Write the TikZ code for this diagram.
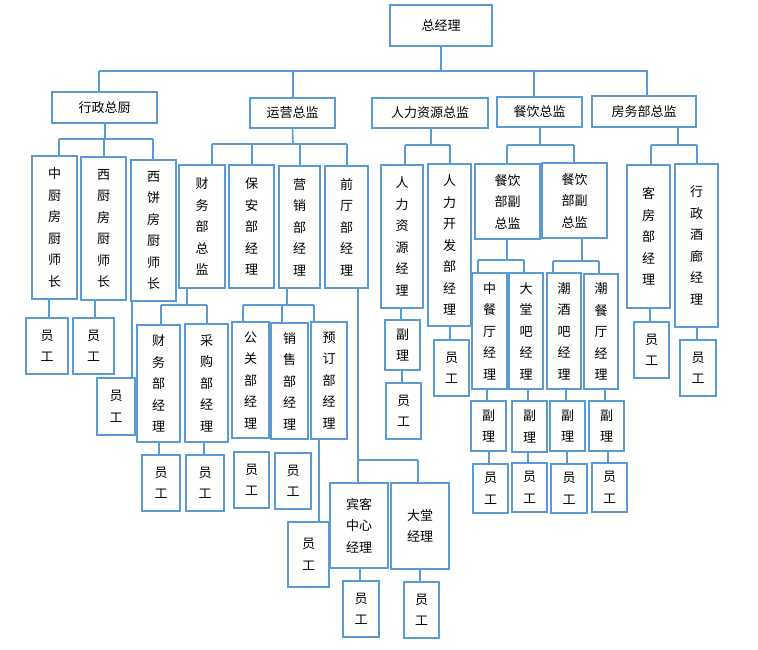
\documentclass[tikz,border=0pt]{standalone}
\usepackage{fontspec}
\setmainfont{Noto Sans CJK SC}
\definecolor{lineblue}{HTML}{5B9BD5}
\tikzset{box/.style={draw=lineblue, line width=1.6pt, inner sep=0pt,
                     align=center, font=\fontsize{13}{21.5}\selectfont}}
% box from its corners: name, x1, y1, x2, y2, text
\newcommand\bx[6]{\node[box, minimum width={(#4-#2)*1pt},
   minimum height={(#5-#3)*1pt}] (#1) at ({(#2+#4)/2},{(#3+#5)/2}) {#6};}
% drop from a branch line at height #2 down to node #3, along x = #1
\newcommand\drop[3]{\draw (#1,#2) -- (#3.north -| #1,0);}
\begin{document}
\begin{tikzpicture}[x=1pt,y=-1pt,line width=1.6pt,draw=lineblue]
\useasboundingbox (0,0) rectangle (758,649);
\tikzset{every path/.style={draw=lineblue}}

\bx{gm}{390}{5}{492}{46}{总经理}
\bx{xz}{52}{92}{157}{123}{行政总厨}
\bx{yy}{250}{98}{335}{128}{运营总监}
\bx{rl}{372}{98}{488}{128}{人力资源总监}
\bx{cy}{497}{97}{582}{127}{餐饮总监}
\bx{fw}{592}{96}{696}{127}{房务部总监}

\draw (gm.south) -- (441,71);
\draw (99,71) -- (648,71);
\drop{99}{71}{xz}
\drop{293}{71}{yy}
\drop{534}{71}{cy}
\drop{647}{71}{fw}

% kitchen
\bx{zc}{32}{156}{77}{299}{中\\厨\\房\\厨\\师\\长}
\bx{xc}{81}{157}{126}{300}{西\\厨\\房\\厨\\师\\长}
\bx{xb}{131}{160}{176}{301}{西\\饼\\房\\厨\\师\\长}
\draw (xz.south -| 105,0) -- (105,139);
\draw (59,139) -- (153,139);
\drop{59}{139}{zc}
\drop{104}{139}{xc}
\drop{153}{139}{xb}
\bx{yg1}{26}{318}{68}{374}{员\\工}
\bx{yg2}{73}{318}{114}{374}{员\\工}
\bx{yg3}{97}{378}{135}{435}{员\\工}
\draw (zc.south -| 49,0) -- (yg1.north -| 49,0);
\draw (xc.south -| 95,0) -- (yg2.north -| 95,0);
\draw (xb.south -| 132,0) -- (yg3.north -| 132,0);

% operations
\bx{cwz}{179}{165}{225}{288}{财\\务\\部\\总\\监}
\bx{ba}{229}{165}{274}{288}{保\\安\\部\\经\\理}
\bx{yx}{279}{166}{320}{288}{营\\销\\部\\经\\理}
\bx{qt}{325}{166}{368}{288}{前\\厅\\部\\经\\理}
\draw (yy.south) -- (293,144);
\draw (212,144) -- (347,144);
\drop{212}{144}{cwz}
\drop{252}{144}{ba}
\drop{300}{144}{yx}
\drop{347}{144}{qt}

\bx{cwj}{137}{325}{180}{442}{财\\务\\部\\经\\理}
\bx{cg}{185}{324}{228}{442}{采\\购\\部\\经\\理}
\draw (cwz.south -| 187,0) -- (187,305);
\draw (161,305) -- (207,305);
\drop{161}{305}{cwj}
\drop{207}{305}{cg}
\bx{yg4}{142}{455}{180}{511}{员\\工}
\bx{yg5}{186}{455}{224}{511}{员\\工}
\draw (cwj.south -| 159,0) -- (yg4.north -| 159,0);
\draw (cg.south -| 204,0) -- (yg5.north -| 204,0);

\bx{gg}{232}{322}{269}{438}{公\\关\\部\\经\\理}
\bx{xs}{271}{323}{308}{439}{销\\售\\部\\经\\理}
\bx{yd}{311}{322}{347}{439}{预\\订\\部\\经\\理}
\draw (yx.south -| 287,0) -- (287,305);
\draw (243,305) -- (314,305);
\drop{243}{305}{gg}
\drop{282}{305}{xs}
\drop{314}{305}{yd}
\bx{yg6}{234}{452}{269}{508}{员\\工}
\bx{yg7}{275}{453}{311}{509}{员\\工}
\bx{yg8}{288}{522}{329}{587}{员\\工}
\draw (yd.south -| 319,0) -- (yg8.north -| 319,0);

\bx{bk}{330}{483}{388}{568}{宾客\\中心\\经理}
\bx{dt}{391}{483}{449}{569}{大堂\\经理}
\draw (qt.south -| 358,0) -- (358,460) -- (418,460);
\drop{358}{460}{bk}
\drop{418}{460}{dt}
\bx{yg9}{343}{581}{379}{637}{员\\工}
\bx{yg10}{404}{582}{439}{638}{员\\工}
\draw (bk.south -| 360,0) -- (yg9.north -| 360,0);
\draw (dt.south -| 420,0) -- (yg10.north -| 420,0);

% human resources
\bx{rzj}{381}{165}{423}{308}{人\\力\\资\\源\\经\\理}
\bx{rkf}{428}{164}{471}{326}{人\\力\\开\\发\\部\\经\\理}
\draw (rl.south -| 431,0) -- (431,145);
\draw (405,145) -- (450,145);
\drop{405}{145}{rzj}
\drop{450}{145}{rkf}
\bx{fl1}{385}{320}{420}{370}{副\\理}
\bx{yg11}{386}{383}{421}{439}{员\\工}
\bx{yg12}{434}{340}{469}{396}{员\\工}
\draw (rzj.south -| 401,0) -- (fl1.north -| 401,0);
\draw (fl1.south -| 402,0) -- (yg11.north -| 402,0);
\draw (rkf.south -| 450,0) -- (yg12.north -| 450,0);

% catering
\bx{fz1}{475}{164}{540}{239}{餐饮\\部副\\总监}
\bx{fz2}{542}{163}{607}{238}{餐饮\\部副\\总监}
\draw (cy.south -| 540,0) -- (540,145);
\draw (507,145) -- (574,145);
\drop{507}{145}{fz1}
\drop{574}{145}{fz2}
\bx{zct}{472}{273}{507}{389}{中\\餐\\厅\\经\\理}
\bx{dtb}{509}{273}{543}{389}{大\\堂\\吧\\经\\理}
\bx{cjb}{547}{273}{581}{389}{潮\\酒\\吧\\经\\理}
\bx{cct}{584}{274}{618}{389}{潮\\餐\\厅\\经\\理}
\draw (fz1.south -| 507,0) -- (507,260);
\draw (478,260) -- (524,260);
\drop{478}{260}{zct}
\drop{524}{260}{dtb}
\draw (fz2.south -| 582,0) -- (582,261);
\draw (553,261) -- (599,261);
\drop{553}{261}{cjb}
\drop{599}{261}{cct}
\bx{fl2}{471}{401}{506}{451}{副\\理}
\bx{fl3}{512}{401}{547}{452}{副\\理}
\bx{fl4}{550}{401}{585}{451}{副\\理}
\bx{fl5}{589}{401}{624}{451}{副\\理}
\draw (zct.south -| 487,0) -- (fl2.north -| 487,0);
\draw (dtb.south -| 528,0) -- (fl3.north -| 528,0);
\draw (cjb.south -| 566,0) -- (fl4.north -| 566,0);
\draw (cct.south -| 605,0) -- (fl5.north -| 605,0);
\bx{yg13}{473}{464}{508}{513}{员\\工}
\bx{yg14}{512}{463}{547}{512}{员\\工}
\bx{yg15}{551}{464}{587}{513}{员\\工}
\bx{yg16}{592}{463}{627}{512}{员\\工}
\draw (fl2.south -| 489,0) -- (yg13.north -| 489,0);
\draw (fl3.south -| 528,0) -- (yg14.north -| 528,0);
\draw (fl4.south -| 567,0) -- (yg15.north -| 567,0);
\draw (fl5.south -| 608,0) -- (yg16.north -| 608,0);

% rooms
\bx{kf}{627}{165}{670}{308}{客\\房\\部\\经\\理}
\bx{jl}{675}{164}{718}{327}{行\\政\\酒\\廊\\经\\理}
\draw (fw.south -| 678,0) -- (678,145);
\draw (651,145) -- (697,145);
\drop{651}{145}{kf}
\drop{697}{145}{jl}
\bx{yg17}{634}{322}{669}{378}{员\\工}
\bx{yg18}{680}{340}{716}{396}{员\\工}
\draw (kf.south -| 650,0) -- (yg17.north -| 650,0);
\draw (jl.south -| 697,0) -- (yg18.north -| 697,0);
\end{tikzpicture}
\end{document}
